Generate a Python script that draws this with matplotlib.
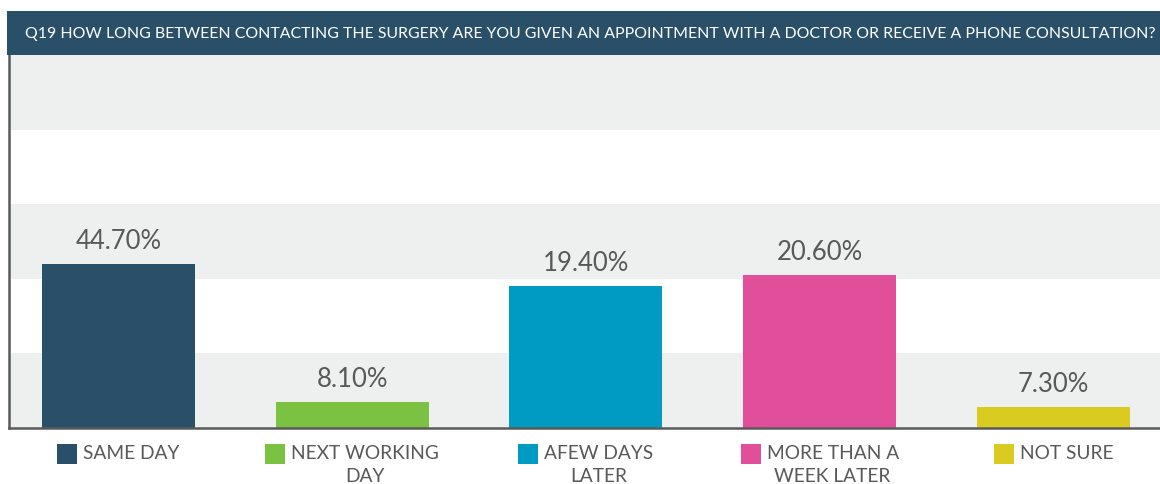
import matplotlib.pyplot as plt
from matplotlib.patches import Rectangle
from matplotlib.offsetbox import AnnotationBbox, DrawingArea, HPacker, TextArea

plt.rcParams['font.family'] = ['Lato', 'DejaVu Sans']

title = ('Q19 HOW LONG BETWEEN CONTACTING THE SURGERY ARE YOU GIVEN AN APPOINTMENT '
         'WITH A DOCTOR OR RECEIVE A PHONE CONSULTATION?')
categories = ['SAME DAY', 'NEXT WORKING\nDAY', 'AFEW DAYS\nLATER', 'MORE THAN A\nWEEK LATER', 'NOT SURE']
# bar heights as drawn in the picture (axis 0-50)
heights = [22.0, 3.5, 19.0, 20.5, 2.8]
# labels printed above the bars
value_labels = ['44.70%', '8.10%', '19.40%', '20.60%', '7.30%']
colors = ['#2a5069', '#7cc242', '#009bc2', '#e14f9b', '#dacb20']

navy = '#2a5069'
txt_gray = '#595959'
band = '#eef0ef'

W, H = 1160, 485
fig = plt.figure(figsize=(W / 100, H / 100), dpi=100)

# title bar
fig.patches.append(Rectangle((7 / W, 1 - 56 / H), 1, 44 / H, transform=fig.transFigure,
                             facecolor=navy, edgecolor='none', zorder=0))
fig.text(25 / W, 1 - 34 / H, title, color='white', fontsize=11.4, va='center', ha='left')

ax = fig.add_axes([9 / W, 1 - 429 / H, (W - 9) / W, (429 - 56) / H])
ax.set_ylim(0, 50)
ax.set_xlim(-0.468, 4.456)
for lo in (0, 20, 40):
    ax.axhspan(lo, lo + 10, color=band, zorder=0, lw=0)

x = list(range(len(categories)))
bars = ax.bar(x, heights, width=0.655, color=colors, zorder=2)
for b, lab in zip(bars, value_labels):
    ax.annotate(lab, (b.get_x() + b.get_width() / 2, b.get_height()),
                xytext=(0, 8), textcoords='offset points', ha='center', va='bottom',
                fontsize=18.5, color=txt_gray)

for s in ['top', 'right']:
    ax.spines[s].set_visible(False)
for s in ['left', 'bottom']:
    ax.spines[s].set_color('#5a5a5a')
    ax.spines[s].set_linewidth(1.8)
ax.set_xticks([])
ax.set_yticks([])

# legend items under each bar
for i, (cat, c) in enumerate(zip(categories, colors)):
    sq = DrawingArea(14.4, 14.4)
    sq.add_artist(Rectangle((0, 0), 14.4, 14.4, facecolor=c, edgecolor='none'))
    ta = TextArea(cat, textprops=dict(color=txt_gray, fontsize=13.8, multialignment='center',
                                      linespacing=1.45))
    box = HPacker(children=[sq, ta], align='top', pad=0, sep=4.3)
    ab = AnnotationBbox(box, (i, 0), xycoords=('data', 'axes fraction'),
                        xybox=(0, -11.5), boxcoords='offset points',
                        box_alignment=(0.5, 1), frameon=False, pad=0, annotation_clip=False)
    ax.add_artist(ab)

fig.savefig('out.png', dpi=100)
